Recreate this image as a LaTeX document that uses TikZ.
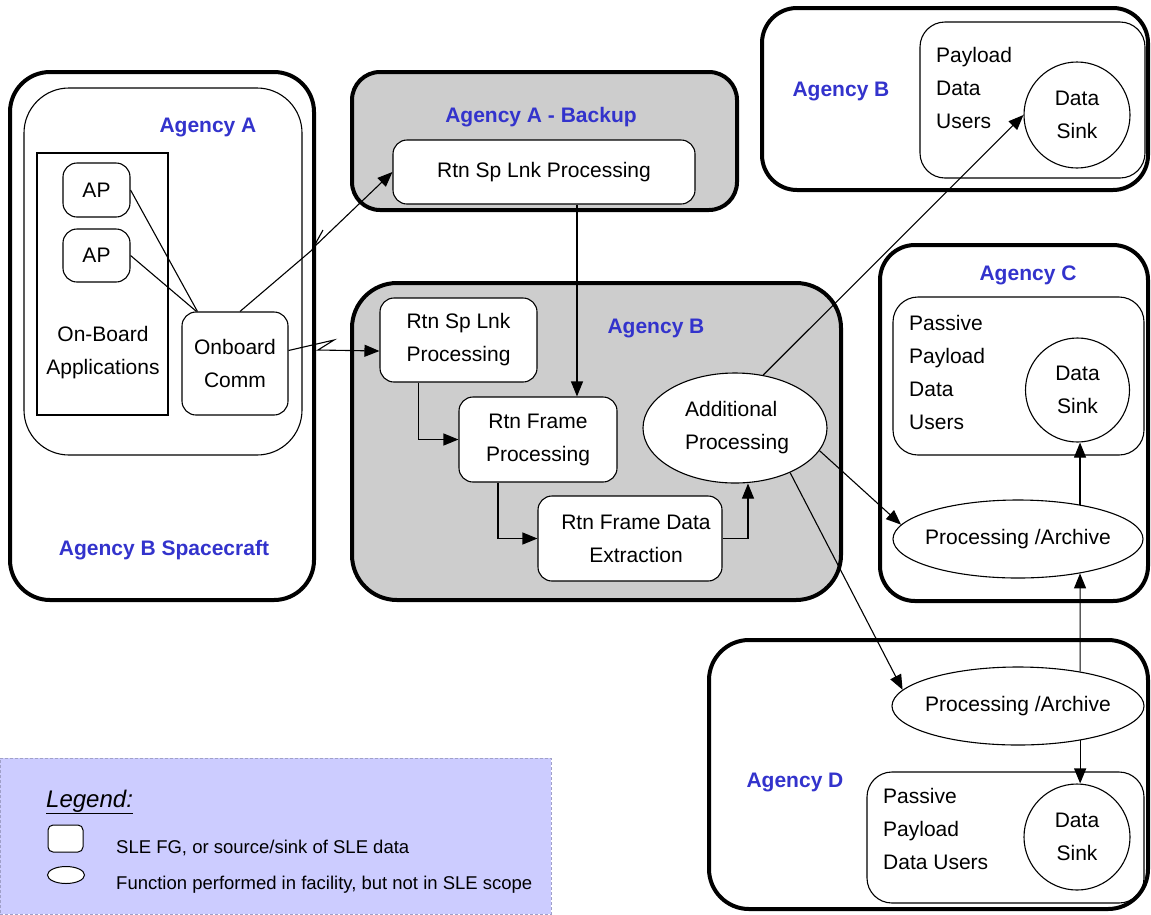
\documentclass[tikz,border=0pt]{standalone}
\usepackage{fontspec}
\setmainfont{Liberation Sans}
\usetikzlibrary{arrows.meta,calc,shapes.geometric}
\definecolor{agblue}{RGB}{51,51,204}
\definecolor{shade}{RGB}{205,205,205}
\definecolor{legbg}{RGB}{204,204,255}
\definecolor{legedge}{RGB}{160,160,200}
\begin{document}
\begin{tikzpicture}[x=1pt,y=-1pt,
  every node/.style={font=\fontsize{21}{33}\selectfont, inner sep=0pt},
  bigbox/.style={draw, line width=4pt, rounded corners=#1, inner sep=0pt},
  bigbox/.default=38pt,
  thinframe/.style={draw, line width=1.1pt, rounded corners=#1},
  thinframe/.default=25pt,
  thinbox/.style={draw, line width=1.1pt, rounded corners=14pt, fill=white},
  agency/.style={text=agblue, font=\fontsize{21}{25}\selectfont\bfseries},
  conn/.style={line width=1.1pt},
  arr/.style={line width=1.1pt, -{Triangle[length=15pt,width=12pt]}},
  oval/.style={draw, ellipse, line width=1.1pt, fill=white, inner sep=0pt},
  sink/.style={draw, circle, line width=1.1pt, fill=white, minimum size=106pt, align=center},
  legtext/.style={anchor=west, font=\fontsize{18.5}{22}\selectfont}
]
\useasboundingbox (0,0) rectangle (1151,914);

% ---- Agency B Spacecraft ----
\node[bigbox=40pt, minimum width=304pt, minimum height=528pt] (sc) at (162,336) {};
\node[thinframe=45pt, minimum width=278pt, minimum height=367pt] (agA) at (163,271.5) {};
\node[draw, line width=1.1pt, minimum width=131pt, minimum height=262pt] (obapps) at (102.5,284) {};
\node[thinbox, minimum width=67pt, minimum height=54pt] (ap1) at (96.5,190) {AP};
\node[thinbox, minimum width=67pt, minimum height=53pt] (ap2) at (96.5,255.5) {AP};
\node[align=center] (obtxt) at (103,353) {On-Board\\Applications};
\node[thinbox, minimum width=106pt, minimum height=103pt, align=center] (obcomm) at (235,363.5) {Onboard\\Comm};
\node[agency] (lblA) at (208,127) {Agency A};
\node[agency] (lblsc) at (164,550) {Agency B Spacecraft};

% ---- Agency A - Backup ----
\node[bigbox=28pt, fill=shade, minimum width=385pt, minimum height=138pt] (backup) at (544.5,141) {};
\node[agency] (lblbk) at (541,117) {Agency A - Backup};
\node[thinbox, minimum width=302pt, minimum height=64pt] (bkrtn) at (544,172) {Rtn Sp Lnk Processing};

% ---- Agency B ground ----
\node[bigbox=45pt, fill=shade, minimum width=489pt, minimum height=317pt] (agB) at (596.5,441.5) {};
\node[agency] (lblB) at (656,328) {Agency B};
\node[thinbox, align=center, minimum width=157pt, minimum height=84pt] (rsl) at (458.5,340) {Rtn Sp Lnk\\Processing};
\node[thinbox, align=center, minimum width=158pt, minimum height=85pt] (rfp) at (538,439.5) {Rtn Frame\\Processing};
\node[thinbox, minimum width=184pt, minimum height=85pt] (rfde) at (630,538.5) {};
\node[align=center] (rfdetxt) at (636,538.5) {Rtn Frame Data\\Extraction};
\node[oval, minimum width=184pt, minimum height=110pt] (addp) at (735,428) {};
\node[align=left] (addptxt) at (737,428) {Additional\\Processing};

% ---- Agency B (top right) ----
\node[bigbox=35pt, minimum width=386pt, minimum height=182pt] (agBtop) at (955,99) {};
\node[agency] (lblBtop) at (841,91) {Agency B};
\node[thinframe, minimum width=225pt, minimum height=156pt] (pduB) at (1032.5,100) {};
\node[anchor=west, align=left] (pduBtxt) at (936,88) {Payload\\Data\\Users};
\node[sink] (dsB) at (1077,115) {Data\\Sink};

% ---- Agency C ----
\node[bigbox=35pt, minimum width=268pt, minimum height=356pt] (agC) at (1014,423) {};
\node[agency] (lblC) at (1028,275) {Agency C};
\node[thinframe, minimum width=251pt, minimum height=158pt] (pduC) at (1018.5,376) {};
\node[anchor=west, align=left] (pduCtxt) at (909,372) {Passive\\Payload\\Data\\Users};
\node[sink, minimum size=104pt] (dsC) at (1077.5,390) {Data\\Sink};
\node[oval, minimum width=250pt, minimum height=78pt] (paC) at (1018,539) {};
\node (paCtxt) at (1018,539) {Processing /Archive};

% ---- Agency D ----
\node[bigbox=40pt, minimum width=439pt, minimum height=269pt] (agD) at (928.5,774.5) {};
\node[agency] (lblD) at (795,782) {Agency D};
\node[oval, minimum width=252pt, minimum height=78pt] (paD) at (1018,706) {};
\node (paDtxt) at (1018,706) {Processing /Archive};
\node[thinframe, minimum width=277pt, minimum height=131pt] (pduD) at (1005.5,837.5) {};
\node[anchor=west, align=left] (pduDtxt) at (883,829) {Passive\\Payload\\Data Users};
\node[sink] (dsD) at (1077,837) {Data\\Sink};

% ---- Legend ----
\node[draw=legedge, densely dashed, line width=0.8pt, fill=legbg, minimum width=551pt, minimum height=156pt] (legend) at (275.5,836) {};
\node[anchor=west, font=\fontsize{24}{28}\selectfont\itshape] (legtitle) at (46,802) {\underline{Legend:}};
\node[draw, line width=1pt, rounded corners=5pt, fill=white, minimum width=35pt, minimum height=27pt] (legbox) at (65.5,838.5) {};
\node[legtext] (legt1) at (116,848) {SLE FG, or source/sink of SLE data};
\node[draw, ellipse, line width=1pt, fill=white, minimum width=37pt, minimum height=17pt] (legov) at (66,875) {};
\node[legtext] (legt2) at (116,885) {Function performed in facility, but not in SLE scope};

% ---- Connectors ----
\draw[conn] (ap1.east) -- ($(obcomm.north west)+(16,0)$);
\draw[conn] (ap2.east) -- ($(obcomm.north west)+(15,0)$);

\coordinate (b1a) at (312,250);
\coordinate (b1b) at (323,230);
\coordinate (b1c) at (313,248);
\draw[arr] ($(obcomm.north)+(5,0)$) -- (b1a) -- (b1b) -- (b1c) -- (bkrtn.west);

\coordinate (b2a) at (334,340);
\coordinate (b2b) at (318,350);
\draw[arr] ($(obcomm.east)+(0,-13)$) -- (b2a) -- (b2b) -- ($(rsl.west)+(0,11)$);

\draw[arr] ($(bkrtn.south)+(33,0)$) -- ($(rfp.north)+(39,0)$);
\draw[arr] ($(rsl.south)+(-40,0)$) |- (rfp.west);
\draw[arr] ($(rfp.south)+(-40,0)$) |- (rfde.west);
\draw[arr] (rfde.east) -| ($(addp.south)+(13,0)$);

\draw[arr] (addp.62) -- (dsB.west);
\draw[arr] (addp.-15) -- (paC.173);
\draw[arr] (addp.-39) -- (paD.172);
\draw[arr] (paD.29) -- (paC.-29);
\draw[arr] (paC.29) -- (paC.29 |- dsC.south);
\draw[arr] (paD.-29) -- (paD.-29 |- dsD.north);
\end{tikzpicture}
\end{document}
